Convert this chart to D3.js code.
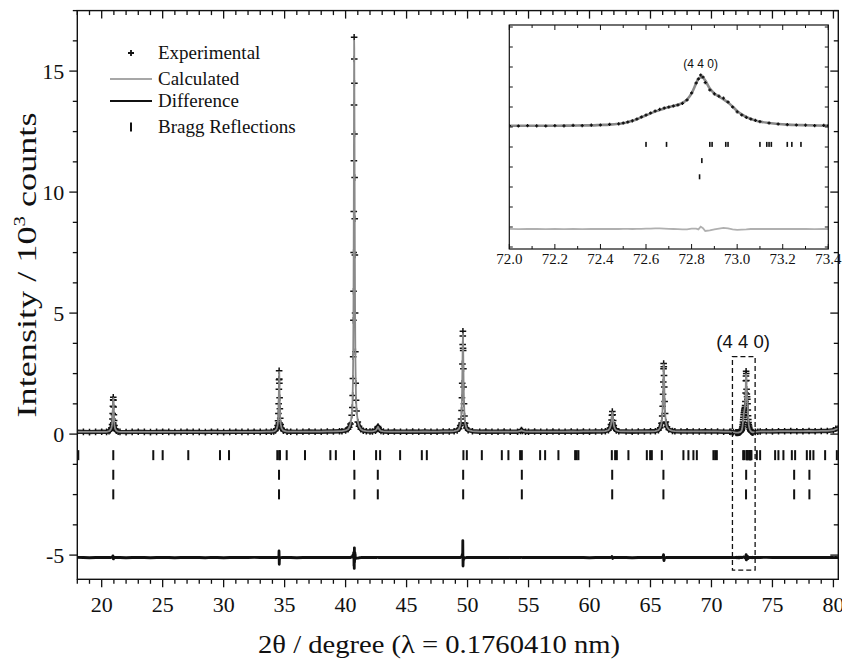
<!DOCTYPE html>
<html>
<head>
<meta charset="utf-8">
<script src="https://cdn.jsdelivr.net/npm/d3@7"></script>
<style>
  body { margin: 0; background: #fff; }
  svg { display: block; }
  text { fill: #111; }
  .serif { font-family: "Liberation Serif", "Times New Roman", Times, serif; }
  .sans { font-family: "Liberation Sans", Arial, Helvetica, sans-serif; }
</style>
</head>
<body>
<svg id="chart" width="842" height="661"></svg>
<script>
// Rietveld refinement of a powder diffraction pattern (Co radiation).
// Each row: [2θ (deg), observed intensity, calculated intensity] in 10^3 counts.
const pattern = [
  [18.0,0.10,0.09],[18.5,0.09,0.09],[19.0,0.08,0.09],[19.5,0.09,0.09],[20.0,0.10,0.09],
  // (111)
  [20.40,0.09,0.09],[20.60,0.12,0.12],[20.70,0.16,0.16],[20.80,0.26,0.25],[20.85,0.40,0.39],
  [20.88,0.62,0.60],[20.90,0.85,0.84],[20.92,1.15,1.08],[20.94,1.42,1.40],[20.95,1.52,1.49],
  [20.96,1.40,1.46],[20.98,1.12,1.15],[21.00,0.80,0.82],[21.02,0.56,0.57],[21.05,0.36,0.36],
  [21.10,0.22,0.22],[21.20,0.14,0.14],[21.35,0.10,0.10],[21.50,0.09,0.09],
  [22.0,0.08,0.09],[22.5,0.09,0.09],[23.0,0.10,0.09],[23.5,0.09,0.09],[24.0,0.08,0.09],
  [24.5,0.09,0.09],[25.0,0.10,0.09],[25.5,0.09,0.09],[26.0,0.08,0.09],[26.5,0.09,0.09],
  [27.0,0.10,0.09],[27.5,0.09,0.09],[28.0,0.09,0.09],[28.5,0.08,0.09],[29.0,0.10,0.09],
  [29.5,0.09,0.09],[30.0,0.08,0.09],[30.5,0.09,0.09],[31.0,0.10,0.09],[31.5,0.09,0.09],
  [32.0,0.09,0.09],[32.5,0.10,0.09],[33.0,0.09,0.09],[33.5,0.10,0.10],
  // (220)
  [33.90,0.10,0.10],[34.10,0.11,0.11],[34.25,0.15,0.15],[34.35,0.22,0.22],[34.42,0.36,0.35],
  [34.46,0.55,0.54],[34.49,0.85,0.84],[34.51,1.25,1.22],[34.53,1.85,1.80],[34.54,2.25,1.98],
  [34.55,2.62,2.57],[34.56,2.28,2.56],[34.57,2.10,2.22],[34.59,1.50,1.52],[34.61,1.05,1.05],
  [34.64,0.65,0.66],[34.68,0.40,0.41],[34.75,0.24,0.24],[34.90,0.14,0.14],[35.20,0.10,0.10],
  [35.5,0.10,0.10],[36.0,0.09,0.10],[36.5,0.10,0.10],[37.0,0.11,0.10],[37.5,0.10,0.10],
  [38.0,0.10,0.10],[38.5,0.11,0.11],[39.0,0.11,0.11],[39.5,0.12,0.12],
  // (311)
  [39.70,0.12,0.12],[40.00,0.15,0.15],[40.20,0.20,0.20],[40.30,0.28,0.28],[40.40,0.42,0.42],
  [40.50,0.78,0.75],[40.55,1.10,1.08],[40.58,1.60,1.55],[40.60,2.30,2.20],[40.62,3.20,3.10],
  [40.64,4.70,4.60],[40.65,5.90,5.80],[40.66,7.50,7.30],[40.67,9.20,9.00],[40.68,11.30,11.10],
  [40.69,13.60,13.95],[40.70,16.40,16.25],[40.71,15.50,15.95],[40.72,14.50,14.10],[40.73,12.40,12.60],
  [40.74,10.60,10.70],[40.75,8.90,8.80],[40.76,7.40,7.20],[40.78,5.00,4.90],[40.80,3.40,3.35],
  [40.83,2.10,2.10],[40.86,1.40,1.42],[40.90,0.95,0.98],[41.00,0.50,0.52],[41.10,0.32,0.33],
  [41.25,0.20,0.20],[41.45,0.14,0.14],[41.70,0.12,0.12],
  [42.0,0.11,0.11],
  // (222)
  [42.20,0.11,0.11],[42.45,0.14,0.14],[42.55,0.20,0.20],[42.62,0.28,0.27],[42.66,0.31,0.30],
  [42.70,0.26,0.26],[42.78,0.18,0.18],[42.90,0.13,0.13],[43.10,0.11,0.11],
  [43.5,0.10,0.10],[44.0,0.11,0.10],[44.5,0.10,0.10],[45.0,0.10,0.10],[45.5,0.11,0.10],
  [46.0,0.10,0.10],[46.5,0.11,0.11],[47.0,0.10,0.10],[47.5,0.10,0.10],[48.0,0.11,0.11],
  [48.5,0.11,0.11],
  // (400)
  [48.90,0.12,0.12],[49.15,0.15,0.15],[49.30,0.22,0.22],[49.40,0.36,0.36],[49.47,0.62,0.60],
  [49.51,0.98,0.96],[49.54,1.50,1.45],[49.56,2.10,2.00],[49.58,2.90,2.75],[49.60,3.70,3.60],
  [49.61,4.05,3.35],[49.62,4.25,4.15],[49.63,3.55,3.90],[49.64,3.45,3.60],[49.66,2.70,2.80],
  [49.68,1.95,2.00],[49.71,1.25,1.28],[49.75,0.75,0.76],[49.80,0.45,0.46],[49.90,0.25,0.25],
  [50.05,0.16,0.16],[50.40,0.12,0.12],
  [51.0,0.10,0.10],[51.5,0.11,0.10],[52.0,0.10,0.10],[52.5,0.10,0.10],[53.0,0.11,0.10],
  [53.5,0.10,0.10],
  // (331)
  [54.10,0.10,0.10],[54.35,0.13,0.13],[54.42,0.17,0.16],[54.50,0.13,0.13],[54.75,0.10,0.10],
  [55.0,0.10,0.10],[55.5,0.11,0.10],[56.0,0.10,0.10],[56.5,0.10,0.10],[57.0,0.11,0.10],
  [57.5,0.10,0.10],[58.0,0.10,0.10],[58.5,0.11,0.11],[59.0,0.10,0.10],[59.5,0.11,0.11],
  [60.0,0.10,0.11],[60.5,0.11,0.11],[61.0,0.11,0.11],
  // (422)
  [61.30,0.12,0.12],[61.55,0.16,0.16],[61.68,0.25,0.25],[61.76,0.40,0.39],[61.81,0.58,0.57],
  [61.84,0.78,0.74],[61.87,0.93,0.91],[61.90,0.80,0.84],[61.94,0.56,0.57],[61.99,0.36,0.36],
  [62.08,0.22,0.22],[62.20,0.15,0.15],[62.40,0.12,0.12],
  [63.0,0.11,0.11],[63.5,0.10,0.11],[64.0,0.11,0.11],[64.5,0.11,0.11],[65.0,0.12,0.11],
  // (511)
  [65.40,0.12,0.12],[65.65,0.16,0.16],[65.80,0.26,0.26],[65.90,0.45,0.45],[65.96,0.75,0.74],
  [66.00,1.15,1.12],[66.03,1.65,1.62],[66.05,2.15,2.10],[66.07,2.70,2.58],[66.08,2.92,2.88],
  [66.09,2.78,2.86],[66.11,2.42,2.55],[66.13,1.95,2.00],[66.16,1.35,1.38],[66.20,0.85,0.86],
  [66.26,0.50,0.50],[66.35,0.30,0.30],[66.50,0.19,0.19],[66.80,0.13,0.13],
  [67.0,0.12,0.12],[67.5,0.11,0.11],[68.0,0.12,0.11],[68.5,0.11,0.11],[69.0,0.11,0.11],
  [69.5,0.12,0.11],[70.0,0.11,0.11],[70.5,0.11,0.11],[71.0,0.10,0.10],[71.5,0.10,0.10],
  // (440)
  [71.60,0.09,0.09],[71.80,0.08,0.08],[72.00,0.07,0.06],[72.04,0.05,0.06],[72.08,0.07,0.06],
  [72.12,0.06,0.06],[72.16,0.05,0.06],[72.20,0.07,0.06],[72.24,0.06,0.07],[72.28,0.08,0.07],
  [72.32,0.07,0.08],[72.36,0.09,0.08],[72.40,0.10,0.10],[72.44,0.13,0.12],[72.48,0.16,0.16],
  [72.50,0.20,0.19],[72.52,0.25,0.24],[72.54,0.31,0.31],[72.56,0.40,0.39],[72.58,0.50,0.49],
  [72.60,0.60,0.58],[72.62,0.70,0.68],[72.64,0.80,0.77],[72.66,0.88,0.85],[72.68,0.95,0.93],
  [72.70,1.00,0.99],[72.72,1.05,1.05],[72.74,1.10,1.11],[72.76,1.18,1.20],[72.78,1.35,1.37],
  [72.80,1.70,1.68],[72.82,2.20,2.18],[72.83,2.40,2.42],[72.84,2.60,2.48],[72.85,2.50,2.46],
  [72.86,2.22,2.32],[72.88,1.85,1.92],[72.90,1.66,1.68],[72.92,1.54,1.52],[72.94,1.44,1.38],
  [72.96,1.25,1.22],[72.98,1.00,1.02],[73.00,0.76,0.80],[73.02,0.60,0.63],[73.04,0.48,0.50],
  [73.06,0.40,0.40],[73.08,0.33,0.33],[73.10,0.27,0.27],[73.14,0.20,0.20],[73.18,0.15,0.15],
  [73.22,0.12,0.12],[73.26,0.10,0.10],[73.30,0.09,0.09],[73.34,0.07,0.08],[73.38,0.08,0.07],
  [73.40,0.07,0.07],[73.60,0.09,0.09],[73.80,0.10,0.10],
  [74.0,0.11,0.11],[74.5,0.12,0.11],[75.0,0.11,0.11],[75.5,0.12,0.12],[76.0,0.12,0.12],
  [76.5,0.13,0.12],[77.0,0.12,0.12],[77.5,0.12,0.12],[78.0,0.13,0.13],[78.5,0.12,0.12],
  [79.0,0.13,0.13],[79.5,0.13,0.13],[80.0,0.16,0.16],[80.2,0.22,0.21],[80.4,0.24,0.24]
];

// Offset at which the difference curve (obs − calc) is drawn
const diffOffset = -5.1;

// Bragg reflection positions (2θ) for the three refined phases
const braggPhase1 = [
  18.08, 20.95, 24.23, 25.00, 27.10, 29.70, 30.44, 34.40, 34.55, 34.62, 35.17, 36.67,
  38.75, 39.20, 40.69, 42.50, 42.83, 44.47, 46.25, 46.66, 49.66, 49.94, 51.17, 52.81,
  53.35, 54.31, 54.45, 55.95, 56.36, 57.45, 58.82, 58.95, 59.09, 61.83, 62.10, 62.24,
  63.19, 64.70, 64.97, 65.11, 65.93, 67.70, 68.11, 68.52, 68.80, 70.16, 70.30, 70.44,
  72.60, 72.69, 72.88, 72.89, 72.95, 72.96, 73.10, 73.13, 73.14, 73.15, 73.22, 73.24,
  73.28, 73.72, 73.99, 75.22, 75.49, 75.90, 76.59, 76.86, 77.82, 78.09, 78.36, 79.32, 80.28
];
const braggPhase2 = [20.95, 34.54, 40.72, 42.64, 49.64, 54.45, 61.86, 66.06, 72.845, 76.78, 78.03];
const braggPhase3 = [20.95, 34.54, 40.72, 42.64, 49.64, 54.45, 61.86, 66.06, 72.835, 76.78, 78.03];
// Vertical level of each tick row (10^3 counts)
const braggRows = [-0.87, -1.68, -2.49];

// Axis ticks
const xMajor = [20, 25, 30, 35, 40, 45, 50, 55, 60, 65, 70, 75, 80];
const xMinor = d3.range(18, 81, 1);
const yMajor = [-5, 0, 5, 10, 15];
const yMinor = d3.range(-5, 17.6, 1.25);
const insetMajor = [72.0, 72.2, 72.4, 72.6, 72.8, 73.0, 73.2, 73.4];
const insetMinor = d3.range(72.0, 73.45, 0.1);
const insetYTicks = [-6, -5, -4, -3, -2, -1, 0, 1, 2, 3, 4, 5];

// Zoom window around the (4 4 0) reflection
const zoomRange = { x0: 71.72, x1: 73.58, y0: -5.62, y1: 3.2 };
const peakLabel = "(4 4 0)";
const peakLabelPos = 72.84;

const legendItems = ["Experimental", "Calculated", "Difference", "Bragg Reflections"];

// ------------------------------------------------------------------
const svg = d3.select("#chart");

const M = { left: 77.3, right: 838.3, top: 10.6, bottom: 579.3 };
const x = d3.scaleLinear().domain([18, 80.4]).range([M.left, M.right]);
const y = d3.scaleLinear().domain([-6, 17.5]).range([M.bottom, M.top]);

const defs = svg.append("defs");
defs.append("clipPath").attr("id", "plotClip")
  .append("rect").attr("x", M.left).attr("y", M.top)
  .attr("width", M.right - M.left).attr("height", M.bottom - M.top);
// The dark band of overlapping experimental points only shows near the background
defs.append("clipPath").attr("id", "bandClip")
  .append("rect").attr("x", M.left).attr("y", y(0.5))
  .attr("width", M.right - M.left).attr("height", y(-0.4) - y(0.5));

const plot = svg.append("g").attr("clip-path", "url(#plotClip)");

const obsLine = d3.line().x(d => x(d[0])).y(d => y(d[1]));
const calcLine = d3.line().x(d => x(d[0])).y(d => y(d[2]));
const diffLine = d3.line().x(d => x(d[0])).y(d => y(d[1] - d[2] + diffOffset));

const crossPath = s => `M${-s},0H${s}M0,${-s}V${s}`;

// Experimental: dense "+" markers merging into a dark band along the background
plot.append("path").datum(pattern)
  .attr("clip-path", "url(#bandClip)")
  .attr("d", obsLine).attr("fill", "none")
  .attr("stroke", "#222").attr("stroke-width", 4.4).attr("stroke-linejoin", "round");
plot.append("g").selectAll("path").data(pattern).join("path")
  .attr("transform", d => `translate(${x(d[0])},${y(d[1])})`)
  .attr("d", crossPath(3.3)).attr("stroke", "#111").attr("stroke-width", 1.5).attr("fill", "none");

// Calculated profile
plot.append("path").datum(pattern)
  .attr("d", calcLine).attr("fill", "none")
  .attr("stroke", "#8a8a8a").attr("stroke-width", 1.8).attr("stroke-linejoin", "round");

// Difference curve
plot.append("path").datum(pattern)
  .attr("d", diffLine).attr("fill", "none")
  .attr("stroke", "#111").attr("stroke-width", 2.8).attr("stroke-linejoin", "round");

// Bragg tick rows
[braggPhase1, braggPhase2, braggPhase3].forEach((phase, i) => {
  plot.append("g").selectAll("rect").data(phase).join("rect")
    .attr("x", d => x(d) - 1).attr("y", y(braggRows[i]) - 5)
    .attr("width", 2).attr("height", 10).attr("fill", "#111");
});

// Dashed zoom window and its label
svg.append("rect")
  .attr("x", x(zoomRange.x0)).attr("y", y(zoomRange.y1))
  .attr("width", x(zoomRange.x1) - x(zoomRange.x0))
  .attr("height", y(zoomRange.y0) - y(zoomRange.y1))
  .attr("fill", "none").attr("stroke", "#111").attr("stroke-width", 1.3)
  .attr("stroke-dasharray", "5,3");
svg.append("text").attr("class", "sans")
  .attr("x", x(peakLabelPos) - 3).attr("y", 348)
  .attr("text-anchor", "middle").attr("font-size", 18.5)
  .text(peakLabel);

// ---- Axes ----
const axes = svg.append("g");
function tickLines(values, fn) {
  axes.append("g").selectAll("line").data(values).join("line").each(function (d) {
    const c = fn(d);
    d3.select(this).attr("x1", c[0]).attr("y1", c[1]).attr("x2", c[2]).attr("y2", c[3]);
  }).attr("stroke", "#111").attr("stroke-width", 1.3);
}
const xMinorOnly = xMinor.filter(v => !xMajor.includes(v));
const yMinorOnly = yMinor.filter(v => !yMajor.includes(v));
// bottom (outward) and top (inward)
tickLines(xMajor, d => [x(d), M.bottom, x(d), M.bottom + 8]);
tickLines(xMinorOnly, d => [x(d), M.bottom, x(d), M.bottom + 4.5]);
tickLines(xMajor, d => [x(d), M.top, x(d), M.top + 8]);
tickLines(xMinorOnly, d => [x(d), M.top, x(d), M.top + 4.5]);
// left (outward) and right (inward)
tickLines(yMajor, d => [M.left, y(d), M.left - 8, y(d)]);
tickLines(yMinorOnly, d => [M.left, y(d), M.left - 4.5, y(d)]);
tickLines(yMajor, d => [M.right, y(d), M.right - 8, y(d)]);
tickLines(yMinorOnly, d => [M.right, y(d), M.right - 4.5, y(d)]);

svg.append("rect").attr("x", M.left).attr("y", M.top)
  .attr("width", M.right - M.left).attr("height", M.bottom - M.top)
  .attr("fill", "none").attr("stroke", "#111").attr("stroke-width", 1.4);

axes.append("g").attr("class", "serif").selectAll("text").data(xMajor).join("text")
  .attr("x", d => x(d)).attr("y", M.bottom + 33)
  .attr("text-anchor", "middle").attr("font-size", 22)
  .text(d => d);
axes.append("g").attr("class", "serif").selectAll("text").data(yMajor).join("text")
  .attr("x", M.left - 13).attr("y", d => y(d)).attr("dy", "0.35em")
  .attr("text-anchor", "end").attr("font-size", 22)
  .text(d => d < 0 ? "-" + Math.abs(d) : d);

// Axis titles
svg.append("text").attr("class", "serif").attr("x", 439).attr("y", 653)
  .attr("text-anchor", "middle").attr("font-size", 25)
  .attr("textLength", 362).attr("lengthAdjust", "spacingAndGlyphs")
  .text("2θ / degree (λ = 0.1760410 nm)");
const yt = svg.append("text").attr("class", "serif")
  .attr("transform", "translate(36,265) rotate(-90)")
  .attr("text-anchor", "middle").attr("font-size", 28)
  .attr("textLength", 305).attr("lengthAdjust", "spacingAndGlyphs");
yt.append("tspan").text("Intensity / 10");
yt.append("tspan").attr("font-size", 16).attr("dy", -11).text("3");
yt.append("tspan").attr("dy", 11).text(" counts");

// ---- Legend ----
const lg = svg.append("g").attr("class", "serif").attr("font-size", 19);
const lgY = [53, 79, 101, 127];
lg.append("path").attr("d", crossPath(3)).attr("transform", `translate(131,${lgY[0]})`)
  .attr("stroke", "#111").attr("stroke-width", 1.8);
lg.append("line").attr("x1", 110).attr("x2", 152).attr("y1", lgY[1]).attr("y2", lgY[1])
  .attr("stroke", "#8a8a8a").attr("stroke-width", 1.6);
lg.append("line").attr("x1", 110).attr("x2", 152).attr("y1", lgY[2]).attr("y2", lgY[2])
  .attr("stroke", "#111").attr("stroke-width", 2);
lg.append("rect").attr("x", 130).attr("y", lgY[3] - 4.5).attr("width", 2).attr("height", 9)
  .attr("fill", "#111");
lg.selectAll("text").data(legendItems).join("text")
  .attr("x", 158).attr("y", (d, i) => lgY[i]).attr("dy", "0.33em").text(d => d);

// ---- Inset: close-up of the (4 4 0) reflection ----
const I = { left: 509.3, right: 828.3, top: 25, bottom: 249 };
const xi = d3.scaleLinear().domain([72.0, 73.4]).range([I.left, I.right]);
const yi = d3.scaleLinear().domain([-6.1, 5.1]).range([I.bottom, I.top]);
const insetData = pattern.filter(d => d[0] >= 71.9 && d[0] <= 73.5);

svg.append("rect").attr("x", I.left).attr("y", I.top)
  .attr("width", I.right - I.left).attr("height", I.bottom - I.top).attr("fill", "#fff");
defs.append("clipPath").attr("id", "insetClip")
  .append("rect").attr("x", I.left).attr("y", I.top)
  .attr("width", I.right - I.left).attr("height", I.bottom - I.top);
const ig = svg.append("g").attr("clip-path", "url(#insetClip)");

ig.append("path").datum(insetData)
  .attr("d", d3.line().x(d => xi(d[0])).y(d => yi(d[1] - d[2] + diffOffset)))
  .attr("fill", "none").attr("stroke", "#b0b0b0").attr("stroke-width", 1.8);
ig.append("path").datum(insetData)
  .attr("d", d3.line().x(d => xi(d[0])).y(d => yi(d[2])).curve(d3.curveMonotoneX))
  .attr("fill", "none").attr("stroke", "#8a8a8a").attr("stroke-width", 2.6);
ig.append("g").selectAll("path").data(insetData).join("path")
  .attr("transform", d => `translate(${xi(d[0])},${yi(d[1])})`)
  .attr("d", crossPath(1.6)).attr("stroke", "#111").attr("stroke-width", 1.3);

[braggPhase1, braggPhase2, braggPhase3].forEach((phase, i) => {
  ig.append("g").selectAll("rect").data(phase.filter(v => v >= 72 && v <= 73.4)).join("rect")
    .attr("x", d => xi(d) - 0.8).attr("y", yi(braggRows[i]) - 2.5)
    .attr("width", 1.6).attr("height", 5).attr("fill", "#111");
});

svg.append("text").attr("class", "sans")
  .attr("x", xi(peakLabelPos)).attr("y", 68)
  .attr("text-anchor", "middle").attr("font-size", 12)
  .text(peakLabel);

const insetMinorOnly = insetMinor.filter(v => !insetMajor.some(m => Math.abs(m - v) < 1e-6));
const itick = (vals, fn) => svg.append("g").selectAll("line").data(vals).join("line").each(function (d) {
  const c = fn(d);
  d3.select(this).attr("x1", c[0]).attr("y1", c[1]).attr("x2", c[2]).attr("y2", c[3]);
}).attr("stroke", "#111").attr("stroke-width", 1);
itick(insetMajor, d => [xi(d), I.bottom, xi(d), I.bottom - 5]);
itick(insetMinorOnly, d => [xi(d), I.bottom, xi(d), I.bottom - 3]);
itick(insetMajor, d => [xi(d), I.top, xi(d), I.top + 5]);
itick(insetMinorOnly, d => [xi(d), I.top, xi(d), I.top + 3]);
itick(insetYTicks, d => [I.left, yi(d), I.left + 3.5, yi(d)]);
itick(insetYTicks, d => [I.right, yi(d), I.right - 3.5, yi(d)]);

svg.append("rect").attr("x", I.left).attr("y", I.top)
  .attr("width", I.right - I.left).attr("height", I.bottom - I.top)
  .attr("fill", "none").attr("stroke", "#111").attr("stroke-width", 1.2);

svg.append("g").attr("class", "serif").selectAll("text").data(insetMajor).join("text")
  .attr("x", d => xi(d)).attr("y", 264)
  .attr("text-anchor", "middle").attr("font-size", 15)
  .text(d => d.toFixed(1));
</script>
</body>
</html>
